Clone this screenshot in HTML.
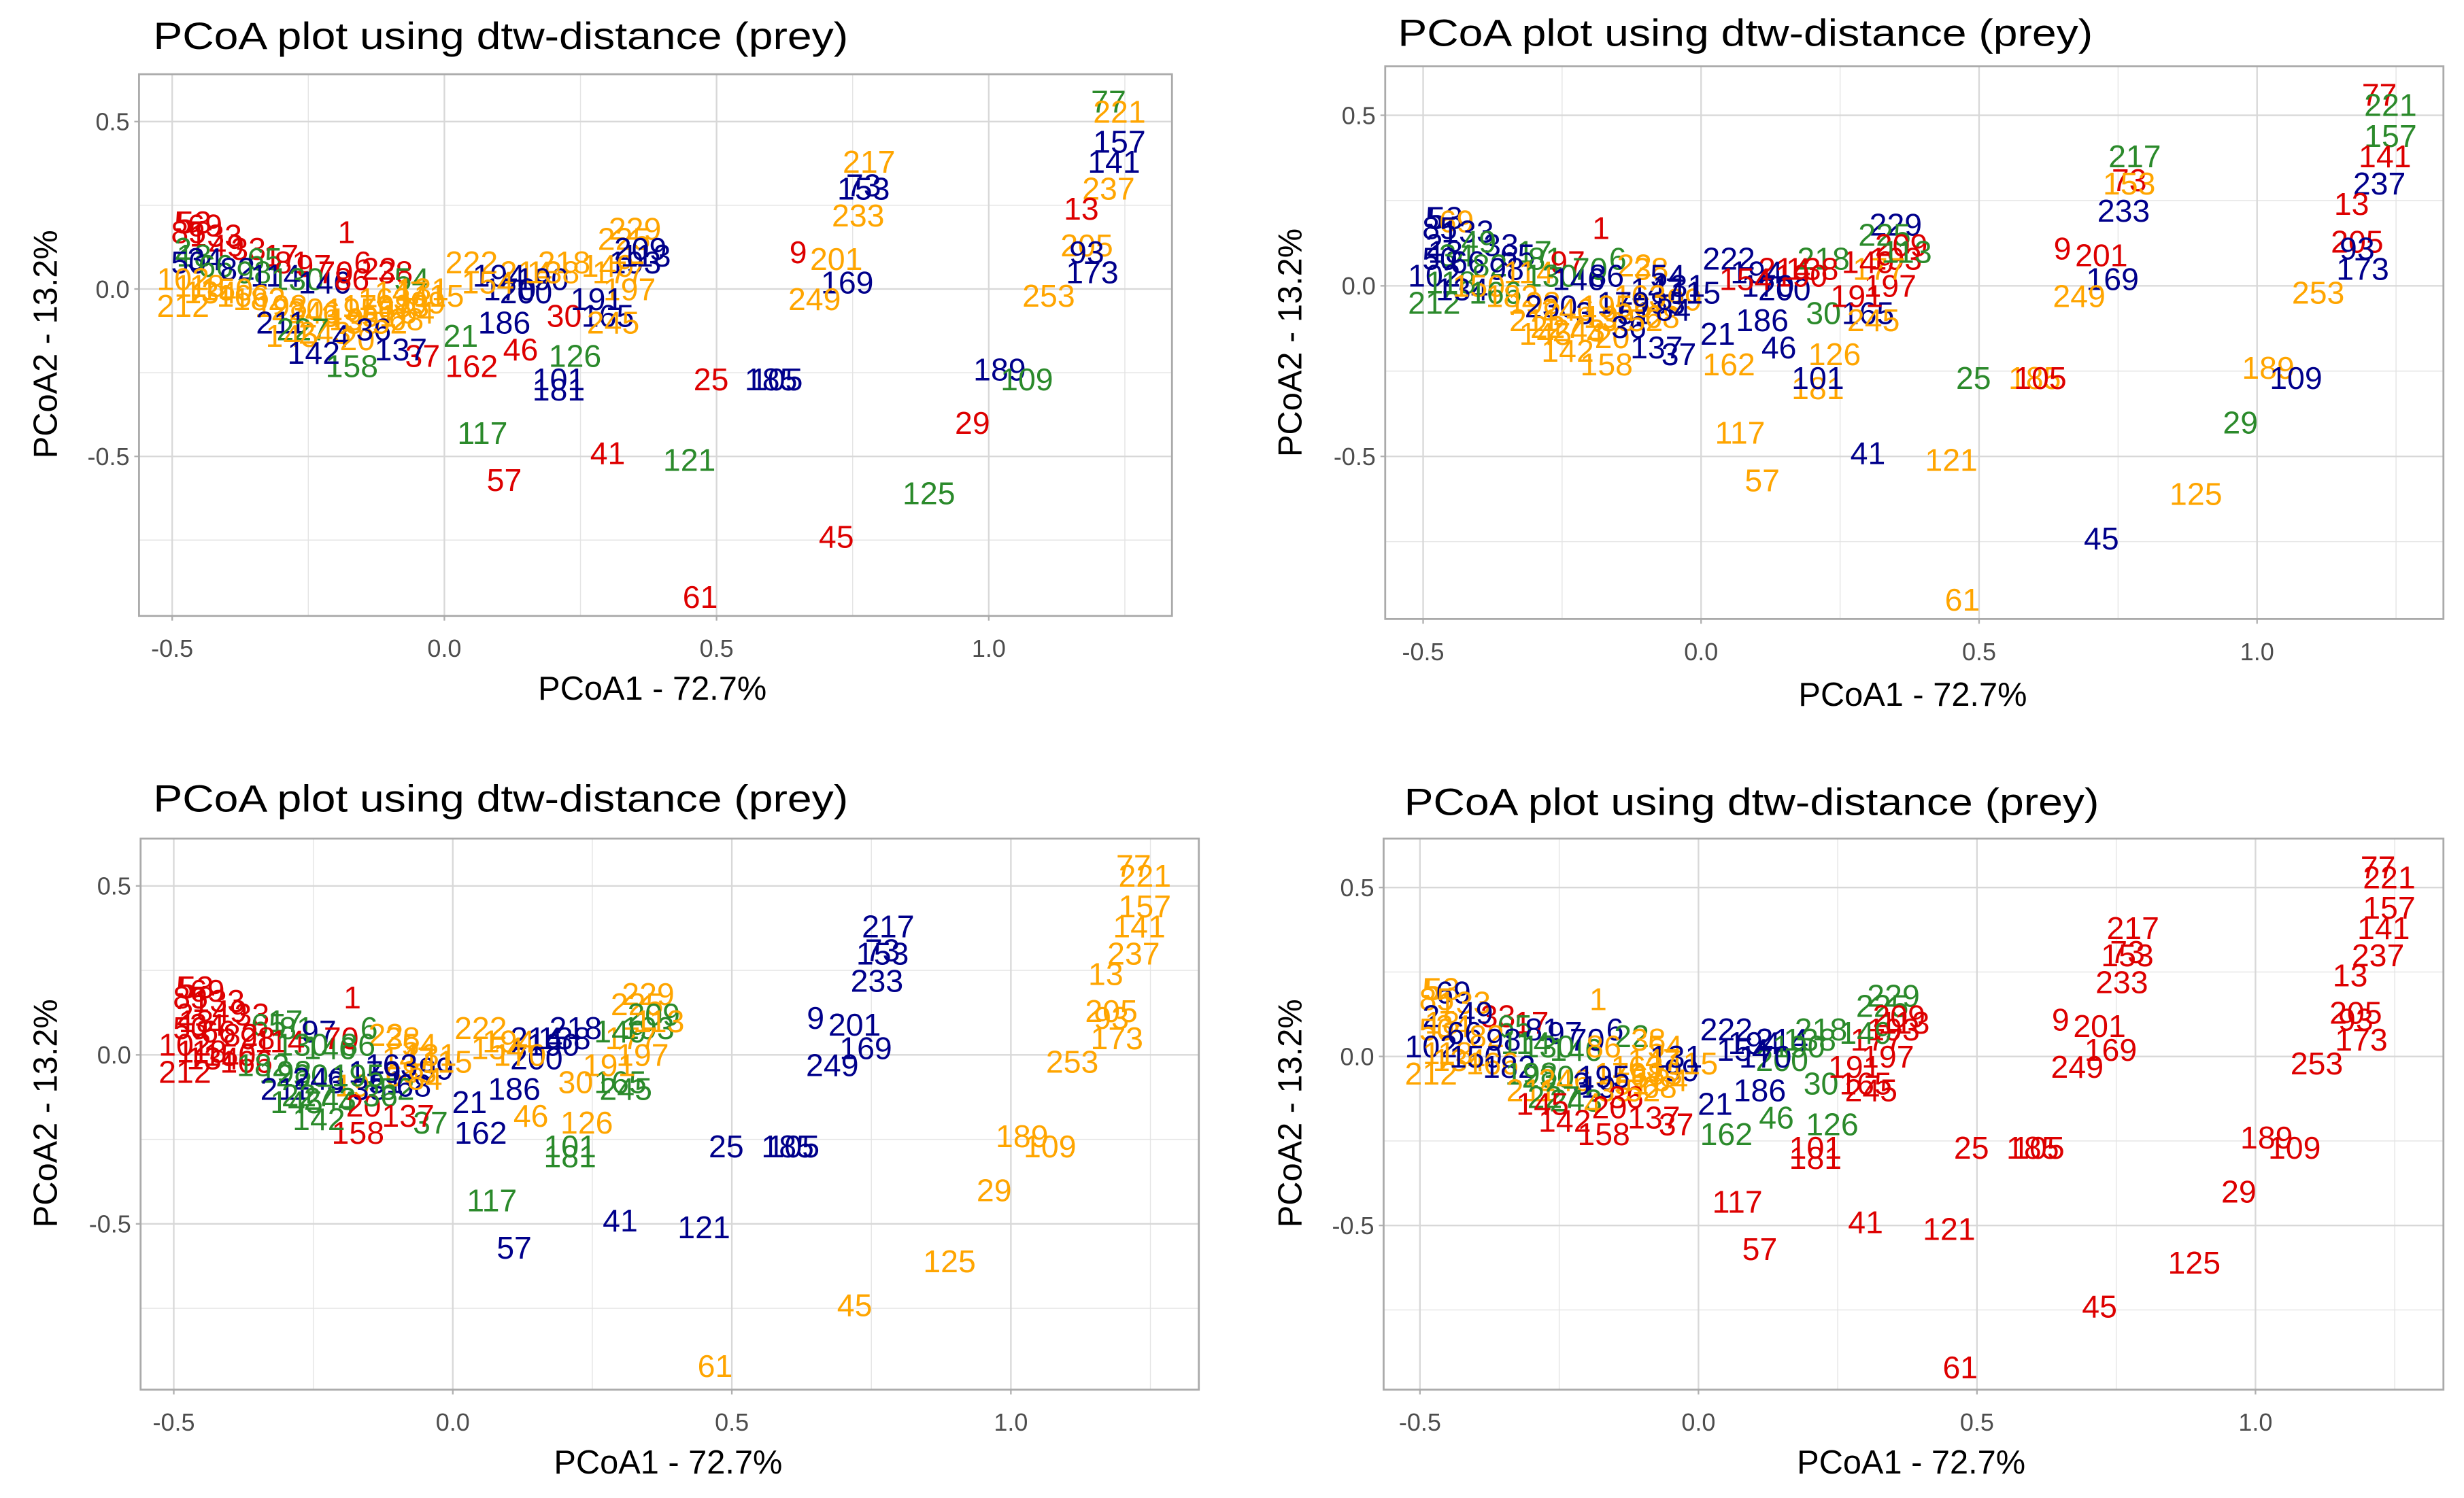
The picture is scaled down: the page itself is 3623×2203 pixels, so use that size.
<!DOCTYPE html>
<html><head><meta charset="utf-8">
<style>
html,body{margin:0;padding:0;background:#fff;}
svg{display:block;}
text{font-family:"Liberation Sans",sans-serif;}
</style></head>
<body>
<svg id="fig" width="3623" height="2203" viewBox="0 0 1560 948.6" xmlns="http://www.w3.org/2000/svg"></svg>
<script>
// ---- data ----
const labels = ["77","221","157","141","237","13","205","93","173","253","217","73","153","233","9","201","169","249","189","109","29","125","45","61","25","185","105","121","41","57","117","181","101","126","46","162","37","186","21","30","165","245","197","200","191","229","225","209","193","177","149","113","222","218","214","194","190","170","154","138","212",
"5","53","69","85","133","1","17","33","49","65","81","97","2","18","34","50","66","82","98","114","130","146","6","22","38","54","70","86","102","118","134","150","166","182","198","230","246","3","19","35","51","67","83","99","115","131","147","163","179","195","211","227","243","4","20","36","52","68","84","145","158","142","137"];
const xs = [1.22,1.24,1.24,1.23,1.22,1.17,1.18,1.18,1.19,1.11,0.78,0.77,0.77,0.76,0.65,0.72,0.74,0.68,1.02,1.07,0.97,0.89,0.72,0.47,0.49,0.60,0.61,0.45,0.30,0.11,0.07,0.21,0.21,0.24,0.14,0.05,-0.04,0.11,0.03,0.22,0.30,0.31,0.34,0.15,0.28,0.35,0.33,0.36,0.35,0.32,0.30,0.37,0.05,0.22,0.15,0.10,0.18,0.12,0.08,0.20,-0.48,
-0.48,-0.46,-0.44,-0.47,-0.42,-0.18,-0.30,-0.36,-0.40,-0.33,-0.28,-0.24,-0.48,-0.46,-0.44,-0.47,-0.42,-0.38,-0.35,-0.31,-0.27,-0.22,-0.15,-0.12,-0.09,-0.06,-0.20,-0.17,-0.48,-0.45,-0.43,-0.40,-0.37,-0.34,-0.30,-0.27,-0.24,-0.21,-0.18,-0.15,-0.12,-0.09,-0.06,-0.03,-0.01,-0.04,-0.08,-0.11,-0.14,-0.17,-0.30,-0.26,-0.22,-0.19,-0.16,-0.13,-0.10,-0.07,-0.05,-0.28,-0.17,-0.24,-0.08];
const ys = [0.56,0.53,0.44,0.38,0.30,0.24,0.13,0.11,0.05,-0.02,0.38,0.31,0.30,0.22,0.11,0.09,0.02,-0.03,-0.24,-0.27,-0.40,-0.61,-0.74,-0.92,-0.27,-0.27,-0.27,-0.51,-0.49,-0.57,-0.43,-0.30,-0.27,-0.20,-0.18,-0.23,-0.20,-0.10,-0.14,-0.08,-0.08,-0.10,0.00,-0.01,-0.03,0.18,0.15,0.12,0.08,0.05,0.07,0.10,0.08,0.08,0.05,0.04,0.03,0.00,0.02,0.05,-0.05,
0.20,0.20,0.19,0.17,0.16,0.17,0.10,0.12,0.13,0.09,0.08,0.07,0.12,0.10,0.09,0.08,0.07,0.06,0.05,0.04,0.03,0.02,0.08,0.06,0.05,0.03,0.05,0.03,0.03,0.01,-0.01,0.00,-0.02,-0.03,-0.05,-0.06,-0.07,-0.08,-0.09,-0.10,-0.08,-0.06,-0.05,-0.04,-0.02,0.00,-0.01,-0.03,-0.05,-0.06,-0.10,-0.12,-0.13,-0.14,-0.15,-0.12,-0.10,-0.09,-0.07,-0.14,-0.23,-0.19,-0.18];
// colour codes per point, per panel (r/g/b/o)
const colorsP1 = "gobborobbo"+"obborobobg"+"rgrrrbbgrr"+"gbbgrrrbgr"+"boobboobbo"+"obooobbboo"+"o"
 +"rrrrrrrrrgrr"+"ggbbgbgbgb"+"rrrgrr"+"ooooooooo"+"ooooooooooooob"+"gob"+"oboooo"+"gbbr";
const colorsP2 = "rggrbrrbbo"+"grobrrboob"+"gobogorobo"+"oobobobbbg"+"borbrbgrro"+"rgbgrbrbrr"+"g"
 +"bbobbrgbgbgr"+"bbgbbgbogb"+"goobgb"+"bgbogoobo"+"boobobobbbobo"+"ooo"+"ooboob"+"ooob";
const colorsP3 = "oooooooooo"+"bbbbbbbboo"+"oooobbbbbb"+"gggoobgbbo"+"ggoboooggo"+"goobboboob"+"r"
 +"rrrrrrgrrggb"+"rrrrrrrrgg"+"gooorg"+"rrrrrgggb"+"bobboobooobbgb"+"ggg"+"rggbog"+"rgrg";
const colorsP4 = "rrrrrrrrrrrrrrrrrrrrrrrrrrrrrrrrr"+"gggrbbg"+"rrrgrggrrr"+"grbgbbgbbg"+"o"
 +"oobooorrbgbbb"+"ooobobgggb"+"goobob"+"oobobggob"+"boooobobooobo"+"ggo"+"rrooor"+"rrrr";
const palette = {r:"#dd0000", g:"#2b8a2b", b:"#00008b", o:"#ffa500"};
const xTicks = [-0.5, 0.0, 0.5, 1.0];
const xTickLabels = ["-0.5","0.0","0.5","1.0"];
const yTicks = [0.5, 0.0, -0.5];
const yTickLabels = ["0.5","0.0","-0.5"];
const xMinor = [-0.25, 0.25, 0.75, 1.25];
const yMinor = [0.25, -0.25, -0.75];

// ---- layout ----
const panels = [
 {name:"top-left", colors:colorsP1, rect:[88,47,742,390], xa:109, xb:626, ya:77, yb:289, tx:97, ty:31, xtx:413, xty:443, ytx:30, yty:218},
 {name:"top-right", colors:colorsP2, rect:[877,42,1547,392], xa:901, xb:1429, ya:73, yb:289, tx:885, ty:29, xtx:1211, xty:447, ytx:818, yty:217},
 {name:"bottom-left", colors:colorsP3, rect:[89,531,759,880], xa:110, xb:640, ya:561, yb:775, tx:97, ty:514, xtx:423, xty:933, ytx:30, yty:705},
 {name:"bottom-right", colors:colorsP4, rect:[876,531,1547,880], xa:899, xb:1428, ya:562, yb:776, tx:889, ty:516, xtx:1210, xty:933, ytx:818, yty:705}
];
const NS="http://www.w3.org/2000/svg";
const svg=document.getElementById('fig');
function mk(tag, attrs, parent){const e=document.createElementNS(NS,tag);for(const k in attrs)e.setAttribute(k,attrs[k]);parent.appendChild(e);return e;}

panels.forEach(p=>{
  const g=mk('g',{},svg);
  
  
  const sx=v=>p.xa+(v+0.5)*(p.xb-p.xa)/1.5;
  const sy=v=>p.ya+(0.5-v)*(p.yb-p.ya);
  const [x0,y0,x1,y1]=p.rect;
  xMinor.forEach(v=>{const X=sx(v); if(X>x0&&X<x1){const l=mk('line',{x1:X,x2:X,y1:y0,y2:y1,stroke:"#e4e4e4","stroke-width":0.6},g);
    }});
  yMinor.forEach(v=>{const Y=sy(v); if(Y>y0&&Y<y1){const l=mk('line',{x1:x0,x2:x1,y1:Y,y2:Y,stroke:"#e4e4e4","stroke-width":0.6},g);
    }});
  xTicks.forEach((v,i)=>{const X=sx(v);
    const l=mk('line',{x1:X,x2:X,y1:y0,y2:y1,stroke:"#d8d8d8","stroke-width":1},g);
    
    const tk=mk('line',{x1:X,x2:X,y1:y1,y2:y1+3,stroke:"#b0b0b0","stroke-width":1},g);
    
    const t=mk('text',{x:X,y:y1+26,"text-anchor":"middle","font-size":15.5,fill:"#4d4d4d"},g);t.textContent=xTickLabels[i];
    });
  yTicks.forEach((v,i)=>{const Y=sy(v);
    const l=mk('line',{x1:x0,x2:x1,y1:Y,y2:Y,stroke:"#d8d8d8","stroke-width":1},g);
    
    const tk=mk('line',{x1:x0-3,x2:x0,y1:Y,y2:Y,stroke:"#b0b0b0","stroke-width":1},g);
    
    const t=mk('text',{x:x0-6,y:Y+5.5,"text-anchor":"end","font-size":15.5,fill:"#4d4d4d"},g);t.textContent=yTickLabels[i];
    });
  const border=mk('rect',{x:x0,y:y0,width:x1-x0,height:y1-y0,fill:"none",stroke:"#aaaaaa","stroke-width":1.2},g);
  
  labels.forEach((lab,i)=>{
    const c=palette[p.colors[i]]||palette.o;
    const t=mk('text',{x:sx(xs[i]),y:sy(ys[i])+7,"text-anchor":"middle","font-size":20,fill:c},g);
    t.textContent=lab;
    
    
  });
  const title=mk('text',{x:p.tx,y:p.ty,"font-size":24,fill:"#000",textLength:440,lengthAdjust:"spacingAndGlyphs"},g);
  title.textContent="PCoA plot using dtw-distance (prey)";
  
  const xt=mk('text',{x:p.xtx,y:p.xty,"text-anchor":"middle","font-size":21,fill:"#000"},g);
  xt.textContent="PCoA1 - 72.7%";
  
  const yt=mk('text',{x:0,y:0,"text-anchor":"middle","font-size":21,fill:"#000",transform:`translate(${p.ytx+6},${p.yty}) rotate(-90)`},g);
  yt.textContent="PCoA2 - 13.2%";
  
});
</script>
</body></html>
